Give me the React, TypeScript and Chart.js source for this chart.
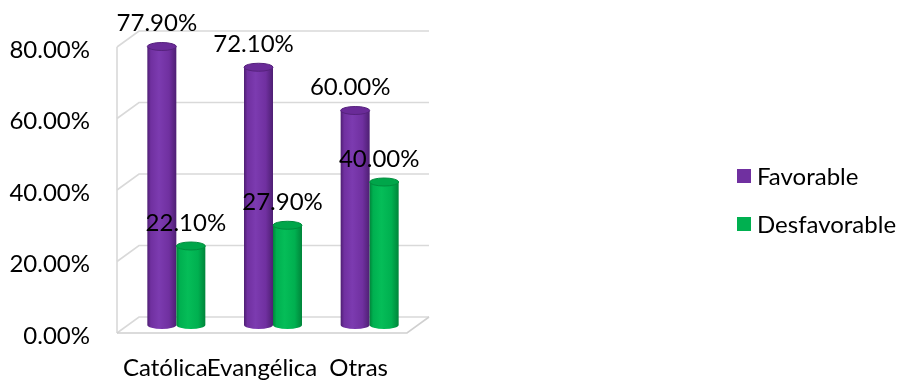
import { useEffect, useRef } from "react";
import { Chart, registerables } from "chart.js";

Chart.register(...registerables);

const categories = ["Católica", "Evangélica", "Otras"];
const seriesNames = ["Favorable", "Desfavorable"];
const favorable = [77.9, 72.1, 60.0];
const desfavorable = [22.1, 27.9, 40.0];
const yTickValues = [0, 20, 40, 60, 80];

const FONT_FAMILY = "Lato, 'Open Sans', sans-serif";
const FONT_SIZE = 24;
const TEXT_COLOR = "#000000";

// depth of the pseudo-3D box (back wall offset) and of the bars (half way in)
const DEPTH_X = 22;
const DEPTH_Y = -16;
const BAR_DX = 11;
const BAR_DY = -8;

type Shade = { base: string; dark: string; light: string; cap: string; rim: string };

const shades: Shade[] = [
  { base: "#7030A0", dark: "#4e1f73", light: "#7c3bb0", cap: "#6a2b98", rim: "#56227d" },
  { base: "#00B050", dark: "#00853a", light: "#05bd58", cap: "#00a64a", rim: "#008c3d" },
];

const pct = (v: number) => `${v.toFixed(2)}%`;

function drawCylinder(
  ctx: CanvasRenderingContext2D,
  cx: number,
  top: number,
  base: number,
  w: number,
  s: Shade
) {
  const rx = w / 2;
  const ry = 4;
  const l = cx - rx;
  const r = cx + rx;
  const g = ctx.createLinearGradient(l, 0, r, 0);
  g.addColorStop(0, s.dark);
  g.addColorStop(0.12, s.base);
  g.addColorStop(0.4, s.light);
  g.addColorStop(0.75, s.base);
  g.addColorStop(1, s.dark);
  ctx.fillStyle = g;
  ctx.beginPath();
  ctx.moveTo(l, top);
  ctx.lineTo(l, base);
  ctx.ellipse(cx, base, rx, ry, 0, Math.PI, 0, true);
  ctx.lineTo(r, top);
  ctx.closePath();
  ctx.fill();

  ctx.beginPath();
  ctx.ellipse(cx, top, rx, ry, 0, 0, Math.PI * 2);
  ctx.fillStyle = s.cap;
  ctx.fill();
  ctx.lineWidth = 1;
  ctx.strokeStyle = s.rim;
  ctx.stroke();
}

const boxPlugin = {
  id: "box3d",
  beforeDatasetsDraw(chart: any) {
    const { ctx, chartArea, scales } = chart;
    const y = scales.y;
    const { left, right } = chartArea;
    ctx.save();
    ctx.strokeStyle = "#d9d9d9";
    ctx.lineWidth = 1.6;
    // back wall gridlines and left wall diagonals
    yTickValues.forEach((v) => {
      const yf = y.getPixelForValue(v);
      ctx.beginPath();
      ctx.moveTo(left, yf);
      ctx.lineTo(left + DEPTH_X, yf + DEPTH_Y);
      ctx.lineTo(right + DEPTH_X, yf + DEPTH_Y);
      ctx.stroke();
    });
    // left wall front edge
    const y0 = y.getPixelForValue(0);
    const yTop = y.getPixelForValue(yTickValues[yTickValues.length - 1]);
    ctx.beginPath();
    ctx.moveTo(left, yTop);
    ctx.lineTo(left, y0);
    ctx.stroke();
    // floor
    ctx.strokeStyle = "#d0d0d0";
    ctx.beginPath();
    ctx.moveTo(left, y0);
    ctx.lineTo(right, y0);
    ctx.lineTo(right + DEPTH_X, y0 + DEPTH_Y);
    ctx.stroke();

    // cylinders
    chart.data.datasets.forEach((_: any, di: number) => {
      const meta = chart.getDatasetMeta(di);
      meta.data.forEach((bar: any) => {
        const p = bar.getProps(["x", "y", "base", "width"], true);
        drawCylinder(ctx, p.x + BAR_DX, p.y + BAR_DY, p.base + BAR_DY, p.width, shades[di]);
      });
    });
    ctx.restore();
    return false;
  },
  afterDraw(chart: any) {
    const { ctx } = chart;
    ctx.save();
    ctx.font = `${FONT_SIZE}px ${FONT_FAMILY}`;
    ctx.fillStyle = TEXT_COLOR;
    ctx.textAlign = "center";
    ctx.textBaseline = "middle";
    chart.data.datasets.forEach((ds: any, di: number) => {
      const meta = chart.getDatasetMeta(di);
      meta.data.forEach((bar: any, i: number) => {
        const p = bar.getProps(["x", "y"], true);
        ctx.fillText(pct(ds.data[i]), p.x + 6, p.y - 31);
      });
    });

    // legend
    const legendX = 737;
    const legendY = [176, 224];
    ctx.textAlign = "left";
    chart.data.datasets.forEach((ds: any, di: number) => {
      ctx.fillStyle = shades[di].base;
      ctx.fillRect(legendX, legendY[di] - 7, 14, 14);
      ctx.fillStyle = TEXT_COLOR;
      ctx.fillText(ds.label, legendX + 20, legendY[di] + 1);
    });
    ctx.restore();
  },
};

export default function App() {
  const canvasRef = useRef<HTMLCanvasElement | null>(null);

  useEffect(() => {
    if (!canvasRef.current) return;
    const chart = new Chart(canvasRef.current, {
      type: "bar",
      data: {
        labels: categories,
        datasets: [
          { label: seriesNames[0], data: favorable, backgroundColor: shades[0].base },
          { label: seriesNames[1], data: desfavorable, backgroundColor: shades[1].base },
        ],
      },
      options: {
        animation: false,
        responsive: true,
        maintainAspectRatio: false,
        layout: { padding: { top: 47, right: 500, bottom: 0, left: 0 } },
        datasets: { bar: { categoryPercentage: 0.6, barPercentage: 1 } },
        plugins: { legend: { display: false }, tooltip: { enabled: false } },
        scales: {
          x: {
            grid: { display: false, drawTicks: false },
            border: { display: false },
            ticks: {
              color: TEXT_COLOR,
              font: { family: FONT_FAMILY, size: FONT_SIZE },
              padding: 21,
              maxRotation: 0,
              minRotation: 0,
              autoSkip: false,
            },
            afterFit: (s: any) => {
              s.height = 48;
            },
          },
          y: {
            min: 0,
            max: 80,
            grid: { display: false, drawTicks: false },
            border: { display: false },
            ticks: {
              stepSize: 20,
              color: TEXT_COLOR,
              font: { family: FONT_FAMILY, size: FONT_SIZE },
              padding: 27,
              labelOffset: 3,
              callback: (v: any) => pct(Number(v)),
            },
            afterFit: (s: any) => {
              s.width = 117;
            },
          },
        },
      },
      plugins: [boxPlugin],
    });
    return () => chart.destroy();
  }, []);

  return (
    <div style={{ position: "absolute", left: 0, top: 0, width: 907, height: 381, background: "#ffffff" }}>
      <canvas ref={canvasRef} />
    </div>
  );
}
